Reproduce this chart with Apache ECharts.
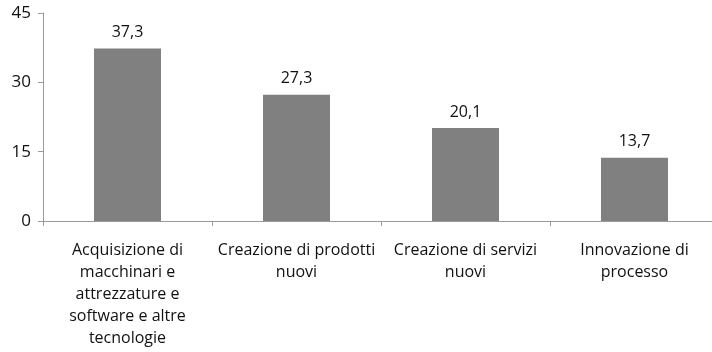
<!DOCTYPE html>
<html>
<head>
<meta charset="utf-8">
<script src="https://cdn.jsdelivr.net/npm/echarts@6/dist/echarts.min.js"></script>
<style>
  html, body { margin: 0; padding: 0; background: #fff; }
  #chart { width: 712px; height: 352px; }
</style>
</head>
<body>
<div id="chart"></div>
<script>
// Categories (line breaks as shown under each bar)
var categories = [
  'Acquisizione di\nmacchinari e\nattrezzature e\nsoftware e altre\ntecnologie',
  'Creazione di prodotti\nnuovi',
  'Creazione di servizi\nnuovi',
  'Innovazione di\nprocesso'
];
var values = [37.3, 27.3, 20.1, 13.7];
var yTicks = { min: 0, max: 45, interval: 15 };

var axisColor = '#9a9a9a';
var textColor = '#111111';
var fontFamily = '"Open Sans", "Liberation Sans", sans-serif';

var chart = echarts.init(document.getElementById('chart'));
chart.setOption({
  animation: false,
  grid: {
    left: 43, top: 13, width: 676, height: 208,
    containLabel: false, outerBoundsMode: 'none'
  },
  xAxis: {
    type: 'category',
    data: categories,
    axisLine: { lineStyle: { color: axisColor, width: 1 } },
    axisTick: { show: true, alignWithLabel: false, length: 5, lineStyle: { color: axisColor } },
    axisLabel: {
      interval: 0, color: textColor, fontFamily: fontFamily, fontSize: 16,
      lineHeight: 22, margin: 18
    }
  },
  yAxis: {
    type: 'value',
    min: yTicks.min, max: yTicks.max, interval: yTicks.interval,
    splitLine: { show: false },
    axisLine: { show: true, lineStyle: { color: axisColor, width: 1 } },
    axisTick: { show: true, length: 5, lineStyle: { color: axisColor } },
    axisLabel: { color: textColor, fontFamily: fontFamily, fontSize: 17, margin: 12 }
  },
  series: [{
    type: 'bar',
    data: values,
    barWidth: 67,
    itemStyle: { color: '#808080' },
    label: {
      show: true, position: 'top', distance: 8,
      color: textColor, fontFamily: fontFamily, fontSize: 16,
      formatter: function (p) { return String(p.value).replace('.', ','); }
    }
  }]
});
</script>
</body>
</html>
